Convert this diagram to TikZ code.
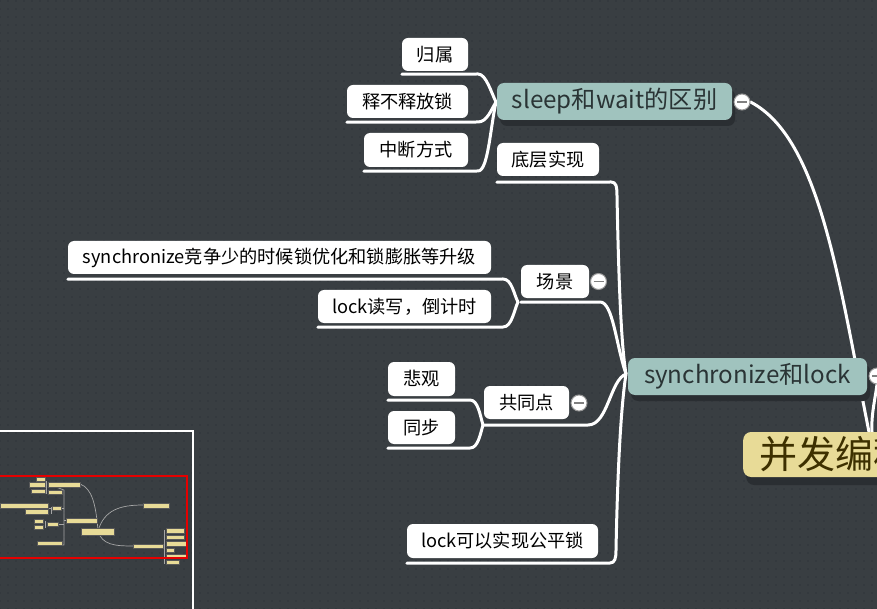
\documentclass[tikz,border=0pt]{standalone}
\usepackage{fontspec}
\setmainfont{Noto Sans CJK SC}
\usetikzlibrary{patterns.meta,shadows}
\definecolor{bgc}{HTML}{393E42}
\definecolor{dotc}{HTML}{30353A}
\definecolor{tealbox}{HTML}{A0C3BE}
\definecolor{maintext}{HTML}{2A3435}
\definecolor{rootc}{HTML}{E8DB97}
\definecolor{roottext}{HTML}{3D3000}
\definecolor{shadowc}{HTML}{2A2E32}
\pgfdeclarelayer{back}
\pgfdeclarelayer{lines}
\pgfsetlayers{back,lines,main}
\begin{document}
\begin{tikzpicture}[x=1pt,y=-1pt,
  leaf/.style={fill=white, rounded corners=6pt, text=black, font=\fontsize{18.2}{21}\selectfont, inner sep=0pt, minimum height=33pt},
  conn/.style={draw=white, line width=3pt, line cap=round, line join=round},
  mainbox/.style={fill=tealbox, rounded corners=7pt, text=maintext, font=\fontsize{24.2}{28}\selectfont, inner sep=0pt, minimum height=37pt,
    drop shadow={shadow xshift=3pt, shadow yshift=-6pt, fill=shadowc, opacity=1}},
  rootbox/.style={fill=rootc, rounded corners=8pt, text=roottext, font=\fontsize{38}{42}\selectfont, inner sep=0pt, minimum height=45pt,
    drop shadow={shadow xshift=3pt, shadow yshift=-8pt, fill=shadowc, opacity=1}},
  fold/.style={circle, draw=gray!80, fill=white, line width=1pt, minimum size=16pt, inner sep=0pt,
    path picture={\draw[gray, line width=1.3pt] ([xshift=-5pt]path picture bounding box.center) -- ([xshift=5pt]path picture bounding box.center);}},
  mm/.style={fill=rootc, draw=gray!70!black, line width=0.5pt},
  mmline/.style={draw=gray!70, line width=0.7pt}
]
\clip (0,0) rectangle (877,609);
\begin{pgfonlayer}{back}
\fill[bgc] (0,0) rectangle (877,609);
\fill[pattern={Dots[distance=8pt,radius=0.8pt]}, pattern color=dotc] (0,0) rectangle (877,609);
\end{pgfonlayer}

% ---------- nodes ----------
\node[rootbox, anchor=west, minimum width=190pt] (root) at (743,454.5) {\hspace*{-6pt}并发编程};
\node[mainbox, minimum width=235pt] (sleep) at (614.5,101.5) {sleep和wait的区别};
\node[mainbox, minimum width=239pt] (sync) at (747.5,376.5) {synchronize和lock};

\node[leaf, minimum width=66pt] (gs) at (435,54.5) {归属};
\node[leaf, minimum width=121pt] (sf) at (407.5,101.5) {释不释放锁};
\node[leaf, minimum width=104pt, minimum height=34pt] (zd) at (416,150) {中断方式};

\node[leaf, minimum width=102pt] (dc) at (548,159.5) {底层实现};
\node[leaf, minimum width=68pt] (cj) at (555,281.5) {场景};
\node[leaf, minimum width=423pt] (syn1) at (279.5,257.5) {synchronize竞争少的时候锁优化和锁膨胀等升级};
\node[leaf, minimum width=173pt] (lockrw) at (404.5,306.5) {lock读写，倒计时};
\node[leaf, minimum width=85pt] (gt) at (526.5,402.5) {共同点};
\node[leaf, minimum width=67pt, minimum height=34pt] (bg) at (421.5,379) {悲观};
\node[leaf, minimum width=67pt] (tb) at (421.5,427.5) {同步};
\node[leaf, minimum width=191pt, minimum height=34pt] (fair) at (502.5,541) {lock可以实现公平锁};

\node[fold] (fsleep) at (742,102) {};
\node[fold] (fcj) at (598.5,281.5) {};
\node[fold] (fgt) at (579,403) {};
\node[fold] (fsync) at (877,376) {};

% ---------- junctions ----------
\coordinate (S) at (496,102);
\coordinate (C) at (626,374);
\coordinate (J) at (518,302);
\coordinate (G) at (483,425);
\coordinate (R1) at (869,432);
\coordinate (R2) at (872,432);

% ---------- connectors ----------
\begin{pgfonlayer}{lines}
\draw[conn] ([yshift=-3pt]gs.south west) -- (478,74) .. controls (486,74) and (491,92) .. (S);
\draw[conn] ([yshift=-4pt]sf.south west) -- (478,122) .. controls (487,122) and (491,110) .. (S);
\draw[conn] ([yshift=-4pt]zd.south west) -- (478,171) .. controls (488,171) and (490,130) .. (S);
\draw[conn] (fsleep.east) .. controls (820,138) and (839,282) .. (R1);
\draw[conn] (fsync.south) .. controls (875,400) and (871,415) .. (R2);

\draw[conn] ([yshift=-6pt]dc.south west) -- (611,182) .. controls (616,182) and (617,186) .. (617,196) .. controls (619,300) and (622,350) .. (C);
\draw[conn] ([yshift=-4pt]cj.south west) -- (600,302) .. controls (613,302) and (616,345) .. (C);
\draw[conn] ([yshift=-6pt]gt.south west) -- (588,425) .. controls (608,425) and (610,380) .. (C);
\draw[conn] ([yshift=-5pt]fair.south west) -- (610,563) .. controls (615,563) and (616,558) .. (616,550) .. controls (618,450) and (622,400) .. (C);

\draw[conn] ([yshift=-5pt]syn1.south west) -- (503,279) .. controls (512,279) and (514,295) .. (J);
\draw[conn] ([yshift=-4pt]lockrw.south west) -- (503,327) .. controls (512,327) and (514,310) .. (J);

\draw[conn] ([yshift=-4pt]bg.south west) -- (470,400) .. controls (478,400) and (480,415) .. (G);
\draw[conn] ([yshift=-4pt]tb.south west) -- (470,448) .. controls (478,448) and (480,435) .. (G);
\end{pgfonlayer}

% ---------- minimap ----------
\draw[mmline] (80,484) .. controls (92,488) and (96,505) .. (98,531);
\draw[mmline] (98,531) .. controls (104,510) and (120,505) .. (143,505);
\draw[mmline] (98,531) .. controls (102,545) and (115,546) .. (133,546);
\draw[mmline] (48,484) -- (64,490) -- (64,545) -- (37,545);
\draw[mmline] (64,520) -- (66,520);
\draw[mmline] (46,481) -- (46,494);
\draw[mmline] (51,507) -- (51,514);
\draw[mmline] (45,521) -- (45,528);
\draw[mmline] (164,530) -- (164,564);
\draw[mmline] (48,508) -- (64,508);
\draw[mmline] (58,524) -- (64,524);
\draw[mm] (36,477) rectangle (45,481);
\draw[mm] (29,482) rectangle (45,487);
\draw[mm] (48,482) rectangle (80,487);
\draw[mm] (31,489) rectangle (45,493);
\draw[mm] (48,490) rectangle (62,494);
\draw[mm] (0,503) rectangle (48,508);
\draw[mm] (52,506) rectangle (61,510);
\draw[mm] (25,509) rectangle (48,514);
\draw[mm] (66,518) rectangle (97,523);
\draw[mm] (34,519) rectangle (43,523);
\draw[mm] (47,522) rectangle (58,526);
\draw[mm] (34,525) rectangle (43,529);
\draw[mm] (81,528) rectangle (114,535);
\draw[mm] (37,541) rectangle (62,545);
\draw[mm] (143,503) rectangle (169,508);
\draw[mm] (133,544) rectangle (163,548);
\draw[mm] (166,528) rectangle (184,533);
\draw[mm] (166,535) rectangle (184,539);
\draw[mm] (166,541) rectangle (186,546);
\draw[mm] (166,548) rectangle (174,552);
\draw[mm] (166,554) rectangle (186,558);
\draw[mm] (166,560) rectangle (179,564);
\draw[red!90!black, line width=1.6pt] (-2,476) rectangle (187,558);
\draw[white, line width=1.6pt] (-2,431) rectangle (193,615);
\end{tikzpicture}
\end{document}
